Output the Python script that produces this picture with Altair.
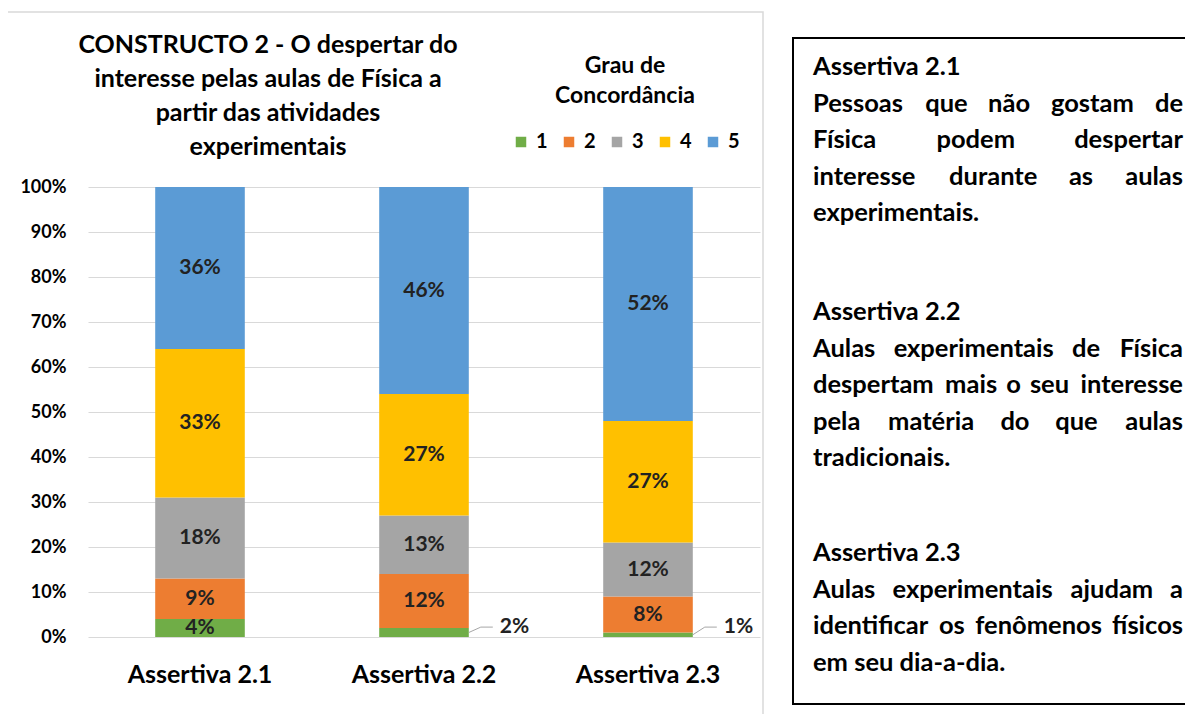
import altair as alt
import pandas as pd

FONT = "Lato"

# ---------------- data ----------------
categories = ["Assertiva 2.1", "Assertiva 2.2", "Assertiva 2.3"]
levels = ["1", "2", "3", "4", "5"]
level_colors = ["#70AD47", "#ED7D31", "#A5A5A5", "#FFC000", "#5B9BD5"]
values_level_1 = [4, 2, 1]
values_level_2 = [9, 12, 8]
values_level_3 = [18, 13, 12]
values_level_4 = [33, 27, 27]
values_level_5 = [36, 46, 52]
y_ticks = [0, 10, 20, 30, 40, 50, 60, 70, 80, 90, 100]

title_lines = ["CONSTRUCTO 2 - O despertar do",
               "interesse pelas aulas de Física a",
               "partir das atividades",
               "experimentais"]
legend_title = ["Grau de", "Concordância"]

box_headings = ["Assertiva 2.1", "Assertiva 2.2", "Assertiva 2.3"]
box_paragraphs = [
    ["Pessoas que não gostam de", "Física podem despertar",
     "interesse durante as aulas", "experimentais."],
    ["Aulas experimentais de Física", "despertam mais o seu interesse",
     "pela matéria do que aulas", "tradicionais."],
    ["Aulas experimentais ajudam a", "identificar os fenômenos físicos",
     "em seu dia-a-dia."],
]

# ---------------- tables ----------------
all_values = [values_level_1, values_level_2, values_level_3,
              values_level_4, values_level_5]
rows = []
for ci, cat in enumerate(categories):
    cum = 0
    for li, lev in enumerate(levels):
        v = all_values[li][ci]
        rows.append({"cat": cat, "level": lev, "value": v,
                     "y0": cum, "y1": cum + v, "mid": cum + v / 2,
                     "label": f"{v}%", "inside": v >= 3})
        cum += v
df = pd.DataFrame(rows)
df_in = df[df["inside"]].copy()
df_out = df[~df["inside"]].copy()
df_out["yfrom"] = df_out["value"] / 2
df_out["yto"] = 2.2

# ---------------- layout (pixels relative to plot origin) ----------------
PW, PH = 672, 450
PAD_L, PAD_T = 80, 179
TOTAL_W, TOTAL_H = 1177, 706

x_scale = alt.Scale(domain=categories, paddingInner=0.6, paddingOuter=0.3)
y_scale = alt.Scale(domain=[0, 100], nice=False)

x_axis = alt.Axis(title=None, labelAngle=0, labelFont=FONT, labelFontSize=25,
                  labelFontWeight="bold", labelColor="#000000", labelPadding=25,
                  domain=False, ticks=False, grid=False)
y_axis = alt.Axis(title=None, values=y_ticks, labelExpr="datum.value + '%'",
                  labelFont=FONT, labelFontSize=18, labelFontWeight="bold",
                  labelColor="#000000", labelPadding=22, domain=False,
                  ticks=False, grid=True, gridColor="#D9D9D9", gridWidth=1)

bars = alt.Chart(df).mark_bar().encode(
    x=alt.X("cat:N", sort=categories, scale=x_scale, axis=x_axis),
    y=alt.Y("y0:Q", scale=y_scale, axis=y_axis),
    y2="y1:Q",
    color=alt.Color(
        "level:N",
        scale=alt.Scale(domain=levels, range=level_colors),
        legend=alt.Legend(
            orient="none", legendX=423, legendY=-132, direction="horizontal",
            title=legend_title, titleFont=FONT, titleFontSize=23,
            titleFontWeight="bold", titleColor="#000000",
            titleAnchor="middle", titleAlign="center", titleLineHeight=30,
            titlePadding=24, symbolType="square", symbolSize=110,
            symbolStrokeWidth=0, labelFont=FONT, labelFontSize=20,
            labelFontWeight="bold", labelColor="#000000", labelOffset=5,
            columnPadding=11, padding=0),
    ),
)

labels_in = alt.Chart(df_in).mark_text(
    font=FONT, fontSize=21, fontWeight="bold", color="#222222"
).encode(
    x=alt.X("cat:N", sort=categories, title=None),
    y=alt.Y("mid:Q", title=None),
    text="label:N",
)

leader_diag = alt.Chart(df_out).mark_rule(
    color="#A6A6A6", strokeWidth=1, x2Offset=12
).encode(
    x=alt.X("cat:N", sort=categories, bandPosition=1, title=None),
    x2=alt.X2("cat:N", bandPosition=1),
    y=alt.Y("yfrom:Q", title=None),
    y2="yto:Q",
)
leader_flat = alt.Chart(df_out).mark_rule(
    color="#A6A6A6", strokeWidth=1, xOffset=12, x2Offset=24
).encode(
    x=alt.X("cat:N", sort=categories, bandPosition=1, title=None),
    x2=alt.X2("cat:N", bandPosition=1),
    y=alt.Y("yto:Q", title=None),
)
labels_out = alt.Chart(df_out).mark_text(
    font=FONT, fontSize=21, fontWeight="bold", color="#222222",
    align="left", dx=31
).encode(
    x=alt.X("cat:N", sort=categories, bandPosition=1, title=None),
    y=alt.Y("yto:Q", title=None),
    text="label:N",
)

plot = alt.layer(bars, labels_in, leader_diag, leader_flat, labels_out)

one = pd.DataFrame({"k": [0]})

frame = alt.Chart(one).mark_rect(
    fillOpacity=0, stroke="#D9D9D9", strokeWidth=1.5
).encode(x=alt.value(-81), x2=alt.value(675), y=alt.value(-175), y2=alt.value(560))

box = alt.Chart(one).mark_rect(
    fillOpacity=0, stroke="#000000", strokeWidth=2
).encode(x=alt.value(705), x2=alt.value(1130), y=alt.value(-149), y2=alt.value(517))

title_text = alt.Chart(one).mark_text(
    font=FONT, fontSize=25, fontWeight="bold", color="#000000",
    align="center", baseline="middle", lineHeight=34
).encode(x=alt.value(180), y=alt.value(-142), text=alt.value(title_lines))

# ---- justified text in the right box ----
W = {}
for ch in "iíljI": W[ch] = 0.26
for ch in "f": W[ch] = 0.34
for ch in "t": W[ch] = 0.36
for ch in "r": W[ch] = 0.38
for ch in "s": W[ch] = 0.44
for ch in "cz": W[ch] = 0.46
for ch in "m": W[ch] = 0.85
for ch in "aáâã": W[ch] = 0.53
for ch in "eéê": W[ch] = 0.55
for ch in "oóôõ": W[ch] = 0.57
for ch in "vyxk": W[ch] = 0.52
for ch in ".,": W[ch] = 0.24
for ch in "-": W[ch] = 0.36


def word_w(w):
    tot = 0.0
    for ch in w:
        if ch in W:
            tot += W[ch]
        elif ch.isupper():
            tot += 0.65
        else:
            tot += 0.58
    return tot


BOX_FS = 25.5
L, R = 725, 1095
heading_y = [67 - 187, 312 - 187, 553 - 187]
LINE = 36.5
words = []
for hi, head in enumerate(box_headings):
    y = heading_y[hi]
    words.append({"t": head, "x": L, "y": y, "a": "left"})
    lines = box_paragraphs[hi]
    for li, line in enumerate(lines):
        yy = y + LINE * (li + 1)
        last = li == len(lines) - 1
        ws = line.split(" ")
        if last or len(ws) == 1:
            words.append({"t": line, "x": L, "y": yy, "a": "left"})
            continue
        widths = [word_w(w) * BOX_FS for w in ws]
        gap = (R - L - sum(widths)) / (len(ws) - 1)
        xpos = L
        for wi, w in enumerate(ws):
            if wi == 0:
                words.append({"t": w, "x": L, "y": yy, "a": "left"})
            elif wi == len(ws) - 1:
                words.append({"t": w, "x": R, "y": yy, "a": "right"})
            else:
                words.append({"t": w, "x": xpos + widths[wi] / 2, "y": yy, "a": "center"})
            xpos += widths[wi] + gap
dfw = pd.DataFrame(words)


def word_layer(align):
    return alt.Chart(dfw[dfw["a"] == align]).mark_text(
        font=FONT, fontSize=BOX_FS, fontWeight="bold", color="#000000",
        align=align, baseline="middle"
    ).encode(
        x=alt.X("x:Q", scale=None, axis=None),
        y=alt.Y("y:Q", scale=None, axis=None),
        text="t:N",
    )


chart = alt.layer(
    frame, plot, title_text, box,
    word_layer("left"), word_layer("center"), word_layer("right")
).resolve_scale(x="independent", y="independent").properties(
    width=PW, height=PH,
    autosize=alt.AutoSizeParams(type="none"),
    padding={"left": PAD_L, "top": PAD_T, "right": TOTAL_W - PAD_L - PW,
             "bottom": TOTAL_H - PAD_T - PH},
    background="white",
).configure_view(stroke=None)

chart.save("out.html", embed_options={"renderer": "svg", "actions": False})
